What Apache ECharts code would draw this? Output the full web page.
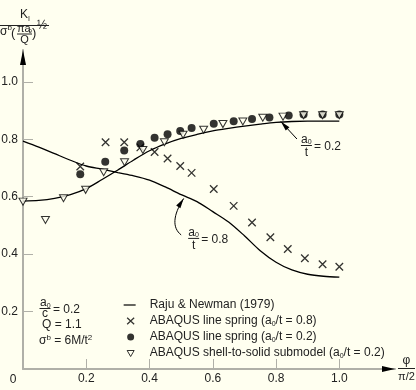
<!DOCTYPE html>
<html>
<head>
<meta charset="utf-8">
<script src="https://cdn.jsdelivr.net/npm/echarts@6/dist/echarts.min.js"></script>
<style>
html,body{margin:0;padding:0;background:#fffff0;}
#c{width:416px;height:390px;}
</style>
</head>
<body>
<div id="c"></div>
<script>
// ---- data ----
const curvePhi = [0,0.05,0.1,0.15,0.2,0.25,0.3,0.35,0.4,0.45,0.5,0.55,0.6,0.65,0.7,0.75,0.8,0.85,0.9,0.95,1.0];
const raju08 = [0.794,0.773,0.750,0.727,0.707,0.696,0.684,0.673,0.658,0.634,0.607,0.583,0.548,0.512,0.464,0.412,0.372,0.345,0.330,0.323,0.320];
const raju02 = [0.585,0.587,0.594,0.607,0.628,0.660,0.693,0.728,0.760,0.784,0.803,0.817,0.829,0.838,0.846,0.853,0.859,0.862,0.863,0.863,0.863];

const crossPhi = [0.181,0.261,0.320,0.371,0.416,0.457,0.497,0.533,0.603,0.666,0.724,0.782,0.837,0.891,0.947,1.0];
const crossK   = [0.705,0.790,0.790,0.772,0.756,0.733,0.707,0.683,0.627,0.568,0.510,0.459,0.418,0.386,0.365,0.356];

const dotPhi = [0.181,0.260,0.320,0.371,0.416,0.457,0.497,0.533,0.603,0.666,0.724,0.779,0.840,0.887,0.947,1.0];
const dotK   = [0.678,0.722,0.761,0.784,0.805,0.818,0.829,0.839,0.854,0.863,0.871,0.876,0.883,0.886,0.886,0.886];

const triPhi = [0.0,0.071,0.128,0.198,0.255,0.321,0.379,0.447,0.506,0.571,0.632,0.695,0.758,0.822,0.887,0.947,1.0];
const triK   = [0.583,0.519,0.595,0.624,0.685,0.720,0.763,0.790,0.816,0.833,0.853,0.862,0.875,0.879,0.884,0.884,0.884];

const tickValues = [0.2,0.4,0.6,0.8,1.0];
const seriesNames = ['Raju & Newman (1979)','ABAQUS line spring (a0/t = 0.8)','ABAQUS line spring (a0/t = 0.2)','ABAQUS shell-to-solid submodel (a0/t = 0.2)'];

// ---- chart ----
const F = "'Liberation Sans', Arial, Helvetica, sans-serif";
const BG = '#fffff0';
const AXIS = '#b0b0a8';
const zip = (a, b) => a.map((v, i) => [v, b[i]]);

const crossPath = 'path://M0,0L10,10M10,0L0,10';
const triPath = 'path://M0,0L10,0L5,9Z';
const legLine = 'path://M0,0M28,8M7,3.4L19,3.4L19,4.6L7,4.6Z';
const legCross = 'path://M0,0M28,8M10.5,0.8L17.5,7.2M17.5,0.8L10.5,7.2';
const legDot = 'path://M0,0M28,8M17.5,4A3.5,3.5,0,1,1,10.5,4A3.5,3.5,0,1,1,17.5,4Z';
const legTri = 'path://M0,0M28,8M10.5,1.5L17.5,1.5L14,7.5Z';

const option = {
  backgroundColor: BG,
  animation: false,
  textStyle: {fontFamily: F},
  grid: {left: 23, top: 50, width: 372, height: 319, outerBoundsMode: 'none', containLabel: false},
  xAxis: {
    type: 'value', min: 0, max: 1.176,
    axisLine: {show: true, lineStyle: {color: AXIS, width: 2}},
    axisTick: {show: true, inside: true, length: 10, lineStyle: {color: AXIS, width: 1}, customValues: tickValues},
    axisLabel: {show: true, margin: 4, fontSize: 12, fontFamily: F, color: '#222', customValues: tickValues, formatter: v => v.toFixed(1)},
    splitLine: {show: false}
  },
  yAxis: {
    type: 'value', min: 0, max: 1.111,
    axisLine: {show: true, lineStyle: {color: AXIS, width: 2}},
    axisTick: {show: true, inside: true, length: 10, lineStyle: {color: AXIS, width: 1}, customValues: tickValues},
    axisLabel: {show: true, margin: 5, fontSize: 12, fontFamily: F, color: '#222', customValues: tickValues, formatter: v => v.toFixed(1)},
    splitLine: {show: false}
  },
  legend: {
    orient: 'vertical', left: 111, top: 293, itemWidth: 28, itemHeight: 8, itemGap: 2,
    selectedMode: false,
    textStyle: {fontSize: 12, fontFamily: F, color: '#222', lineHeight: 14,
      rich: {sub: {fontSize: 7, fontFamily: F, color: '#222', lineHeight: 7, verticalAlign: 'bottom'}}},
    formatter: name => name.replace('a0/', 'a{sub|0}/'),
    data: [
      {name: seriesNames[0], icon: legLine, itemStyle: {color: '#000', borderWidth: 0}},
      {name: seriesNames[1], icon: legCross, itemStyle: {color: 'rgba(0,0,0,0)', borderColor: '#000', borderWidth: 1.3}},
      {name: seriesNames[2], icon: legDot, itemStyle: {color: '#000', borderWidth: 0}},
      {name: seriesNames[3], icon: legTri, itemStyle: {color: BG, borderColor: '#000', borderWidth: 1}}
    ]
  },
  series: [
    {name: seriesNames[0], type: 'line', data: zip(curvePhi, raju08), symbol: 'none', smooth: 0.3, silent: true,
      lineStyle: {color: '#000', width: 1.3}, itemStyle: {color: '#000'}, z: 2},
    {name: seriesNames[0], type: 'line', data: zip(curvePhi, raju02), symbol: 'none', smooth: 0.3, silent: true,
      lineStyle: {color: '#000', width: 1.3}, itemStyle: {color: '#000'}, z: 2},
    {name: seriesNames[1], type: 'scatter', data: zip(crossPhi, crossK), symbol: crossPath, symbolSize: 7.5, silent: true,
      itemStyle: {color: 'rgba(0,0,0,0)', borderColor: '#000', borderWidth: 1.3}, z: 3},
    {name: seriesNames[2], type: 'scatter', data: zip(dotPhi, dotK), symbol: 'circle', symbolSize: 8, silent: true,
      itemStyle: {color: '#000'}, z: 4},
    {name: seriesNames[3], type: 'scatter', data: zip(triPhi, triK), symbol: triPath, symbolSize: [8, 7], silent: true,
      itemStyle: {color: BG, borderColor: '#000', borderWidth: 1}, z: 5}
  ]
};

const chart = echarts.init(document.getElementById('c'), null, {renderer: 'canvas'});
chart.setOption(option);

// ---- annotations ----
const P = (x, y) => chart.convertToPixel({gridIndex: 0}, [x, y]);
const g = [];
function txt(x, y, text, size, align, extra) {
  g.push({type: 'text', silent: true, x: x, y: y, z: 10,
    style: Object.assign({text: text, fill: '#222', fontSize: size, fontFamily: F, align: align || 'left', verticalAlign: 'middle'}, extra || {})});
}
function hline(x1, x2, y, w) {
  g.push({type: 'line', silent: true, z: 10, shape: {x1: x1, y1: y, x2: x2, y2: y}, style: {stroke: '#222', lineWidth: w || 1}});
}
function arrowHead(tx, ty, dx, dy, L, W) {
  const n = Math.hypot(dx, dy); dx /= n; dy /= n;
  const bx = tx - L * dx, by = ty - L * dy;
  g.push({type: 'polygon', silent: true, z: 11, shape: {points: [[tx, ty], [bx - W * dy, by + W * dx], [bx + W * dy, by - W * dx]]}, style: {fill: '#000'}});
}

// axis arrows
const yTop = P(0, 1.111), xEnd = P(1.176, 0);
arrowHead(yTop[0], yTop[1], 0, -1, 15, 3);
arrowHead(xEnd[0], xEnd[1], 1, 0, 13, 3);

// origin label
const o = P(0, 0);
txt(o[0] - 10, o[1] + 11, '0', 12, 'center');

// y-axis title: K_I / sigma^b (pi a0 / Q)^1/2
txt(24, 15, 'K', 12, 'center');
txt(28, 19, 'I', 7, 'left');
hline(0, 49, 25.5, 1);
txt(0, 32, 'σ', 12, 'left');
txt(7.5, 27.5, 'b', 8, 'left');
txt(11, 33, '(', 13, 'left');
txt(17, 29, 'πa', 11, 'left');
txt(28.5, 31.5, '0', 6, 'left');
hline(17, 32, 34, 1);
txt(24.5, 39.5, 'Q', 11, 'center');
txt(32, 33, ')', 13, 'left');
txt(37, 26, '½', 12, 'left');

// x-axis name: phi / (pi/2)
txt(406.5, 361, 'φ', 12, 'center');
hline(398, 415, 368.5, 1);
txt(406.5, 376.5, 'π/2', 11, 'center');

// a0/t annotation helper
function fracLabel(bx, by, val) {
  txt(bx, by - 6, 'a', 12, 'left');
  txt(bx + 6.8, by - 3, '0', 7, 'left');
  hline(bx, bx + 11, by, 1);
  txt(bx + 5.5, by + 7.5, 't', 12, 'center');
  txt(bx + 13, by + 1.5, '= ' + val, 12, 'left');
}

// a0/t = 0.2 (upper curve)
const tip02 = P(0.815, 0.862), tail02 = P(0.866, 0.801);
g.push({type: 'line', silent: true, z: 10, shape: {x1: tail02[0], y1: tail02[1], x2: tip02[0], y2: tip02[1]}, style: {stroke: '#000', lineWidth: 1}});
arrowHead(tip02[0], tip02[1], tip02[0] - tail02[0], tip02[1] - tail02[1], 10, 2.5);
fracLabel(tail02[0] + 4, tail02[1] + 6.5, '0.2');

// a0/t = 0.8 (lower curve)
const tip08 = P(0.508, 0.594), tail08 = P(0.500, 0.467);
const c1 = [tail08[0] - 9, tail08[1] - 7], c2 = [tip08[0] - 11, tip08[1] + 17];
g.push({type: 'bezierCurve', silent: true, z: 10,
  shape: {x1: tail08[0], y1: tail08[1], cpx1: c1[0], cpy1: c1[1], cpx2: c2[0], cpy2: c2[1], x2: tip08[0], y2: tip08[1]},
  style: {stroke: '#000', lineWidth: 1, fill: null}});
arrowHead(tip08[0], tip08[1], tip08[0] - c2[0], tip08[1] - c2[1], 10, 2.5);
fracLabel(tail08[0] + 7, tail08[1] + 3.5, '0.8');

// parameter block
txt(40, 303, 'a', 12, 'left');
txt(46.8, 306, '0', 7, 'left');
hline(39.5, 50.5, 308.5, 1);
txt(45, 314, 'c', 12, 'center');
txt(53, 309.5, '= 0.2', 12, 'left');
txt(42, 324.5, 'Q = 1.1', 12, 'left');
g.push({type: 'text', silent: true, x: 39, y: 341, z: 10,
  style: {text: '{n|σ}{s|b}{n| = 6M/t}{s|2}', verticalAlign: 'middle', align: 'left',
    rich: {n: {fontSize: 12, fontFamily: F, fill: '#222', color: '#222', lineHeight: 14},
           s: {fontSize: 8, fontFamily: F, fill: '#222', color: '#222', lineHeight: 8, verticalAlign: 'top'}}}});

chart.setOption({graphic: g});
</script>
</body>
</html>
